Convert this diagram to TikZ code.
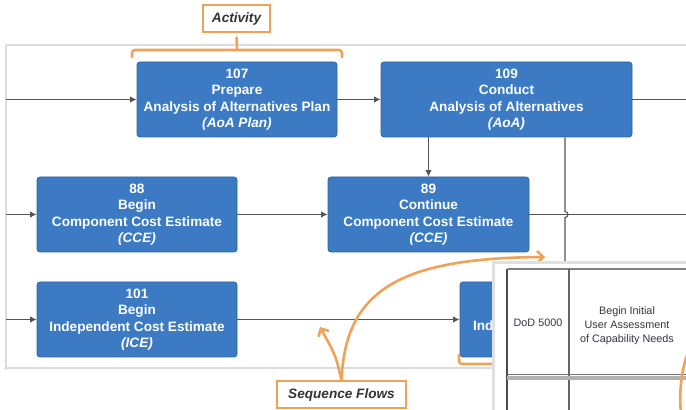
\documentclass[tikz,border=0pt]{standalone}
\usepackage{fontspec}
\setsansfont{Liberation Sans}
\usepackage{tikz}
\usetikzlibrary{positioning,arrows.meta,calc}
\definecolor{blue1}{HTML}{3C7BC3}
\definecolor{blue2}{HTML}{2F62A0}
\definecolor{orange1}{HTML}{F0A258}
\definecolor{gray1}{HTML}{555555}
\definecolor{lane1}{HTML}{DCDCDC}
\definecolor{ink1}{HTML}{34343F}

\begin{document}
\begin{tikzpicture}[
    x=0.5pt, y=-0.5pt,
    >={Latex[length=3.2pt,width=3.2pt]},
    act/.style={draw=blue2, fill=blue1, rounded corners=1.5pt, text=white,
                font=\sffamily\bfseries\fontsize{6.8}{8.2}\selectfont,
                align=center, minimum height=37.5pt, inner sep=1pt},
    flow/.style={draw=gray1, line width=0.55pt},
    lane/.style={draw=lane1, line width=1pt},
    callout/.style={draw=orange1, line width=1pt, fill=white, text=black!80,
                    font=\sffamily\bfseries\itshape\fontsize{6.8}{8}\selectfont,
                    minimum height=13.5pt, inner xsep=4pt},
    hint/.style={draw=orange1, line width=1.3pt, line cap=round},
    cell/.style={font=\sffamily\fontsize{5.4}{7}\selectfont, text=ink1,
                 align=center, inner sep=0pt},
]
\useasboundingbox (0,0) rectangle (686,410);

% Swimlane frame
\draw[lane] (686,45) -- (6,45) -- (6,370);
\draw[lane, line width=0.6pt] (6,368) -- (686,368);

% Entry points on the lane edge
\coordinate (in107) at (6,99.5);
\coordinate (in88) at (6,214.5);
\coordinate (in101) at (6,319.5);
\coordinate (out109) at (686,99.5);
\coordinate (out89) at (686,214.5);
\coordinate (drop) at (565,410);

% Activities
\node[act, minimum width=100pt] (p107) at (237,99.5)
    {107\\Prepare\\Analysis of Alternatives Plan\\\textit{(AoA Plan)}};
\node[act, minimum width=125.5pt] (p109) at (506.5,99.5)
    {109\\Conduct\\Analysis of Alternatives\\\textit{(AoA)}};
\node[act, minimum width=100pt] (p88) at (137,214.5)
    {88\\Begin\\Component Cost Estimate\\\textit{(CCE)}};
\node[act, minimum width=100.5pt] (p89) at (428.5,214.5)
    {89\\Continue\\Component Cost Estimate\\\textit{(CCE)}};
\node[act, minimum width=100pt] (p101) at (137,319.5)
    {101\\Begin\\Independent Cost Estimate\\\textit{(ICE)}};
\node[act, minimum width=100pt] (pind) at (560,319.5)
    {\strut\\\strut\\\makebox[87pt][l]{Ind}\\\strut};

% Sequence flows
\draw[flow, ->] (in107) -- (p107.west);
\draw[flow, ->] (p107.east) -- (p109.west);
\draw[flow] (p109.east) -- (out109);
\draw[flow, ->] (p109.south -| p89.north) -- (p89.north);
\draw[flow] (p109.south -| drop) -- ($(p89.east -| drop)+(0,-3)$)
    arc[start angle=90, end angle=-90, radius=1.5pt] -- (drop);
\draw[flow, ->] (in88) -- (p88.west);
\draw[flow, ->] (p88.east) -- (p89.west);
\draw[flow] (p89.east) -- (out89);
\draw[flow, ->] (in101) -- (p101.west);
\draw[flow, ->] (p101.east) -- (pind.west);

% Activity callout
\node[callout, minimum width=33.5pt] (lblact) at (236.5,19) {Activity};
\draw[hint, rounded corners=1.5pt] (132,57) -- (132,50) -- (342,50) -- (342,57);
\coordinate (brk) at (237,50);
\draw[hint, shorten >=2pt] (brk) -- (lblact.south);
\draw[hint, rounded corners=1.5pt] (459,355) -- (459,364) -- (500,364);

% Sequence flow callout
\node[callout, minimum width=64.5pt] (lblseq) at (341.5,395) {Sequence Flows};
\draw[hint, -{Straight Barb[length=3pt,width=6pt]}]
    (lblseq.north) .. controls (336,356) .. (320,327);
\draw[hint, -{Straight Barb[length=3pt,width=6pt]}]
    (lblseq.north) .. controls (345,290) and (400,258) .. (545,257);

% Inset of the process table
\fill[black!12] (492,261) rectangle (700,420);
\fill[white] (495,264) rectangle (700,420);
\draw[black!70, line width=1.2pt] (507,269) -- (507,420);
\draw[black!50, line width=0.9pt] (507,269) -- (700,269);
\draw[black!60, line width=0.6pt] (569,269) -- (569,420);
\draw[black!30, line width=1.6pt] (507,378) -- (700,378);
\draw[black!55, line width=0.5pt] (507,375) -- (700,375);
\node[cell] (dod) at (538,323) {DoD 5000};
\node[cell] (need) at (627,326)
    {Begin Initial\\User Assessment\\of Capability Needs};
\draw[hint] (688,352) .. controls (681,372) and (679,392) .. (681,414);
\end{tikzpicture}
\end{document}
